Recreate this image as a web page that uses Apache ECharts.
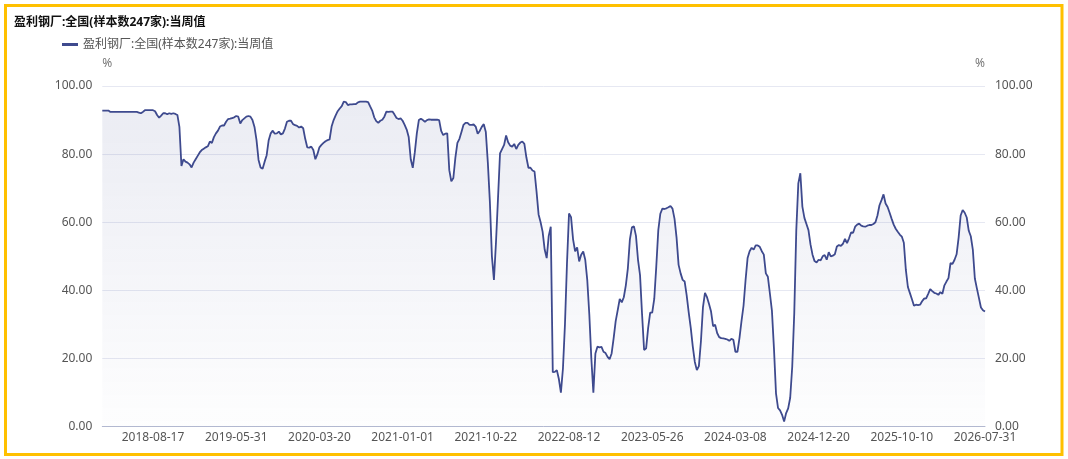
<!DOCTYPE html>
<html>
<head>
<meta charset="utf-8">
<script src="https://cdn.jsdelivr.net/npm/echarts/dist/echarts.min.js"></script>
<style>
html,body{margin:0;padding:0;background:#fff;}
#chart{width:1068px;height:459px;}
</style>
</head>
<body>
<div id="chart"></div>
<script>
const chartTitle = '盈利钢厂:全国(样本数247家):当周值';
const seriesName = '盈利钢厂:全国(样本数247家):当周值';
const unitName = '%';
const tickDates = ['2018-08-17','2019-05-31','2020-03-20','2021-01-01','2021-10-22','2022-08-12','2023-05-26','2024-03-08','2024-12-20','2025-10-10','2026-07-31'];
const firstTickIndex = 25;
const weeksPerTick = 41;
const yTicks = [0, 20, 40, 60, 80, 100];
const weeklyValues = [
  92.8, 92.8, 92.8, 92.8, 92.4, 92.4, 92.4, 92.4, 92.4, 92.4,
  92.4, 92.4, 92.4, 92.4, 92.4, 92.4, 92.4, 92.4, 92.2, 92.0,
  92.4, 92.9, 92.9, 92.9, 92.9, 92.9, 92.6, 91.5, 90.7, 91.3,
  92.0, 92.0, 91.7, 92.0, 91.8, 92.0, 91.8, 91.5, 88.0, 76.5,
  78.5, 77.8, 77.5, 77.0, 76.1, 77.5, 78.5, 79.5, 80.5, 81.2,
  81.6, 82.0, 82.3, 83.7, 83.3, 85.0, 86.1, 86.9, 88.1, 88.4,
  88.4, 89.5, 90.3, 90.4, 90.6, 90.8, 91.2, 91.0, 89.0, 90.0,
  90.5, 91.0, 91.2, 91.0, 90.0, 88.0, 84.1, 78.3, 76.1, 75.7,
  77.8, 79.7, 84.1, 86.1, 86.9, 86.0, 86.1, 86.6, 85.8, 86.1,
  87.5, 89.5, 89.8, 89.8, 88.8, 88.5, 88.3, 87.8, 88.1, 87.6,
  84.5, 82.0, 81.9, 82.2, 81.2, 78.5, 80.0, 82.0, 82.7, 83.3,
  83.8, 84.1, 84.3, 88.1, 90.0, 91.4, 92.6, 93.4, 94.1, 95.4,
  95.3, 94.4, 94.6, 94.6, 94.7, 94.7, 95.2, 95.4, 95.4, 95.4,
  95.4, 95.3, 94.0, 92.8, 90.8, 89.7, 89.2, 89.8, 90.1, 91.0,
  92.5, 92.4, 92.5, 92.5, 91.6, 90.6, 90.3, 90.5, 89.8, 88.6,
  87.2, 85.0, 78.5, 76.0, 80.5, 86.1, 90.0, 90.4, 90.0, 89.5,
  90.0, 90.2, 90.1, 90.1, 90.1, 90.1, 90.0, 86.8, 85.6, 86.0,
  86.1, 75.3, 72.0, 73.0, 79.0, 83.3, 84.5, 86.5, 88.6, 89.2,
  89.2, 88.6, 88.6, 88.7, 88.1, 86.0, 86.8, 88.0, 88.8, 86.5,
  77.5, 66.0, 50.0, 43.1, 54.0, 67.0, 80.2, 81.5, 82.7, 85.5,
  83.5, 82.5, 82.2, 83.0, 81.5, 82.7, 83.4, 83.7, 83.0, 79.0,
  76.0, 76.0, 75.2, 74.9, 69.0, 62.3, 60.0, 57.2, 52.0, 49.5,
  56.0, 58.7, 16.0, 16.1, 16.6, 14.0, 10.0, 17.0, 30.0, 48.0,
  62.6, 61.5, 55.0, 51.5, 52.6, 48.5, 50.5, 51.4, 49.0, 43.0,
  33.0, 20.0, 10.0, 21.5, 23.5, 23.3, 23.4, 22.0, 21.6, 20.5,
  19.8, 21.5, 26.0, 31.0, 34.2, 37.5, 36.5, 38.0, 41.5, 46.5,
  55.0, 58.5, 58.8, 56.0, 49.0, 44.5, 33.0, 22.5, 23.0, 29.0,
  33.5, 33.5, 37.5, 47.0, 57.7, 62.5, 64.0, 63.9, 64.1, 64.4,
  64.8, 64.0, 61.0, 55.5, 47.5, 45.0, 43.1, 42.6, 38.5, 33.5,
  29.0, 23.5, 19.0, 16.6, 17.8, 25.0, 35.0, 39.3, 38.0, 36.0,
  33.8, 29.5, 29.9, 27.5, 26.3, 26.0, 25.9, 25.8, 25.6, 25.2,
  25.8, 25.5, 22.0, 22.0, 26.0, 31.0, 35.5, 43.0, 49.5, 51.5,
  52.5, 52.0, 53.2, 53.2, 52.8, 51.5, 50.5, 45.0, 44.0, 39.1,
  34.0, 23.0, 9.8, 5.5, 4.8, 3.5, 1.5, 4.0, 5.4, 8.5,
  17.6, 33.3, 57.7, 71.4, 74.4, 64.6, 61.3, 59.5, 57.7, 53.5,
  50.5, 48.6, 48.2, 49.0, 48.8, 50.0, 50.4, 49.0, 51.2, 50.0,
  50.2, 50.6, 52.9, 53.3, 53.1, 53.7, 55.1, 53.9, 55.3, 57.0,
  56.9, 58.7, 59.3, 59.6, 59.0, 58.8, 58.7, 59.0, 59.2, 59.2,
  59.5, 60.0, 62.0, 65.0, 66.5, 68.2, 65.5, 64.5, 62.8, 61.0,
  59.3, 58.1, 57.2, 56.4, 55.8, 54.0, 46.0, 41.0, 39.2, 37.4,
  35.5, 35.8, 35.7, 35.8, 36.8, 37.6, 37.7, 39.0, 40.4, 39.8,
  39.3, 39.1, 38.7, 39.5, 39.0, 41.5, 42.6, 43.6, 48.0, 47.8,
  49.0, 50.6, 55.5, 62.0, 63.6, 62.8, 61.4, 57.5, 55.9, 52.0,
  43.5, 40.6, 37.8, 35.0, 34.2, 33.8
];

const DAY = 86400000;
function parseDate(s) { const p = s.split('-').map(Number); return Date.UTC(p[0], p[1] - 1, p[2]); }
function fmtDate(t) { return new Date(t).toISOString().slice(0, 10); }
const categories = [];
for (let i = 0; i < weeklyValues.length; i++) {
  const rel = i - firstTickIndex;
  let k = rel <= 0 ? 0 : Math.ceil(rel / weeksPerTick);
  k = Math.min(k, tickDates.length - 1);
  const pos = firstTickIndex + k * weeksPerTick;
  categories.push(fmtDate(parseDate(tickDates[k]) - (pos - i) * 7 * DAY));
}
const tickSet = new Set(tickDates);

const FONT = "'Noto Sans', 'Noto Sans CJK SC', sans-serif";
const LINE = '#3E4A8E';
const chart = echarts.init(document.getElementById('chart'), null, { renderer: 'canvas' });
const yAxisCommon = {
  type: 'value', min: yTicks[0], max: yTicks[yTicks.length - 1], interval: yTicks[1] - yTicks[0],
  name: unitName, nameLocation: 'end', nameGap: 16,
  axisLine: { show: false }, axisTick: { show: false },
  axisLabel: { formatter: v => v.toFixed(2), color: '#555', fontSize: 12, margin: 10, fontFamily: FONT }
};
chart.setOption({
  animation: false,
  textStyle: { fontFamily: FONT },
  title: { text: chartTitle, left: 14, top: 17, padding: 0, textStyle: { fontSize: 12, fontWeight: 'bold', color: '#111', fontFamily: FONT } },
  legend: { left: 62, top: 38.5, padding: 0, icon: 'rect', itemWidth: 16, itemHeight: 3, data: [seriesName], textStyle: { fontSize: 12, color: '#555', fontFamily: FONT } },
  grid: { left: 102.3, right: 83, top: 86, bottom: 32.3, containLabel: false },
  xAxis: {
    type: 'category', data: categories, boundaryGap: false,
    axisLine: { lineStyle: { color: '#B3B9D1', width: 1 } },
    axisTick: { show: false },
    axisLabel: { interval: (i, v) => tickSet.has(v), margin: 5, color: '#555', fontSize: 12, fontFamily: FONT },
    splitLine: { show: false }
  },
  yAxis: [
    Object.assign({}, yAxisCommon, { position: 'left', nameTextStyle: { align: 'left', color: '#777', fontSize: 12 }, splitLine: { lineStyle: { color: '#E6E8F2' } } }),
    Object.assign({}, yAxisCommon, { position: 'right', nameTextStyle: { align: 'right', color: '#777', fontSize: 12 }, splitLine: { show: false } })
  ],
  series: [{
    name: seriesName, type: 'line', data: weeklyValues, yAxisIndex: 0, symbol: 'none',
    lineStyle: { color: LINE, width: 1.8 }, itemStyle: { color: LINE },
    areaStyle: { color: new echarts.graphic.LinearGradient(0, 0, 0, 1, [
      { offset: 0, color: 'rgba(62,74,142,0.15)' },
      { offset: 1, color: 'rgba(62,74,142,0.01)' }
    ]) }
  }],
  graphic: [{
    type: 'rect', silent: true, z: 100,
    shape: { x: 5.5, y: 5.5, width: 1056.5, height: 449 },
    style: { fill: 'transparent', stroke: '#FFC000', lineWidth: 3 }
  }]
});
</script>
</body>
</html>
